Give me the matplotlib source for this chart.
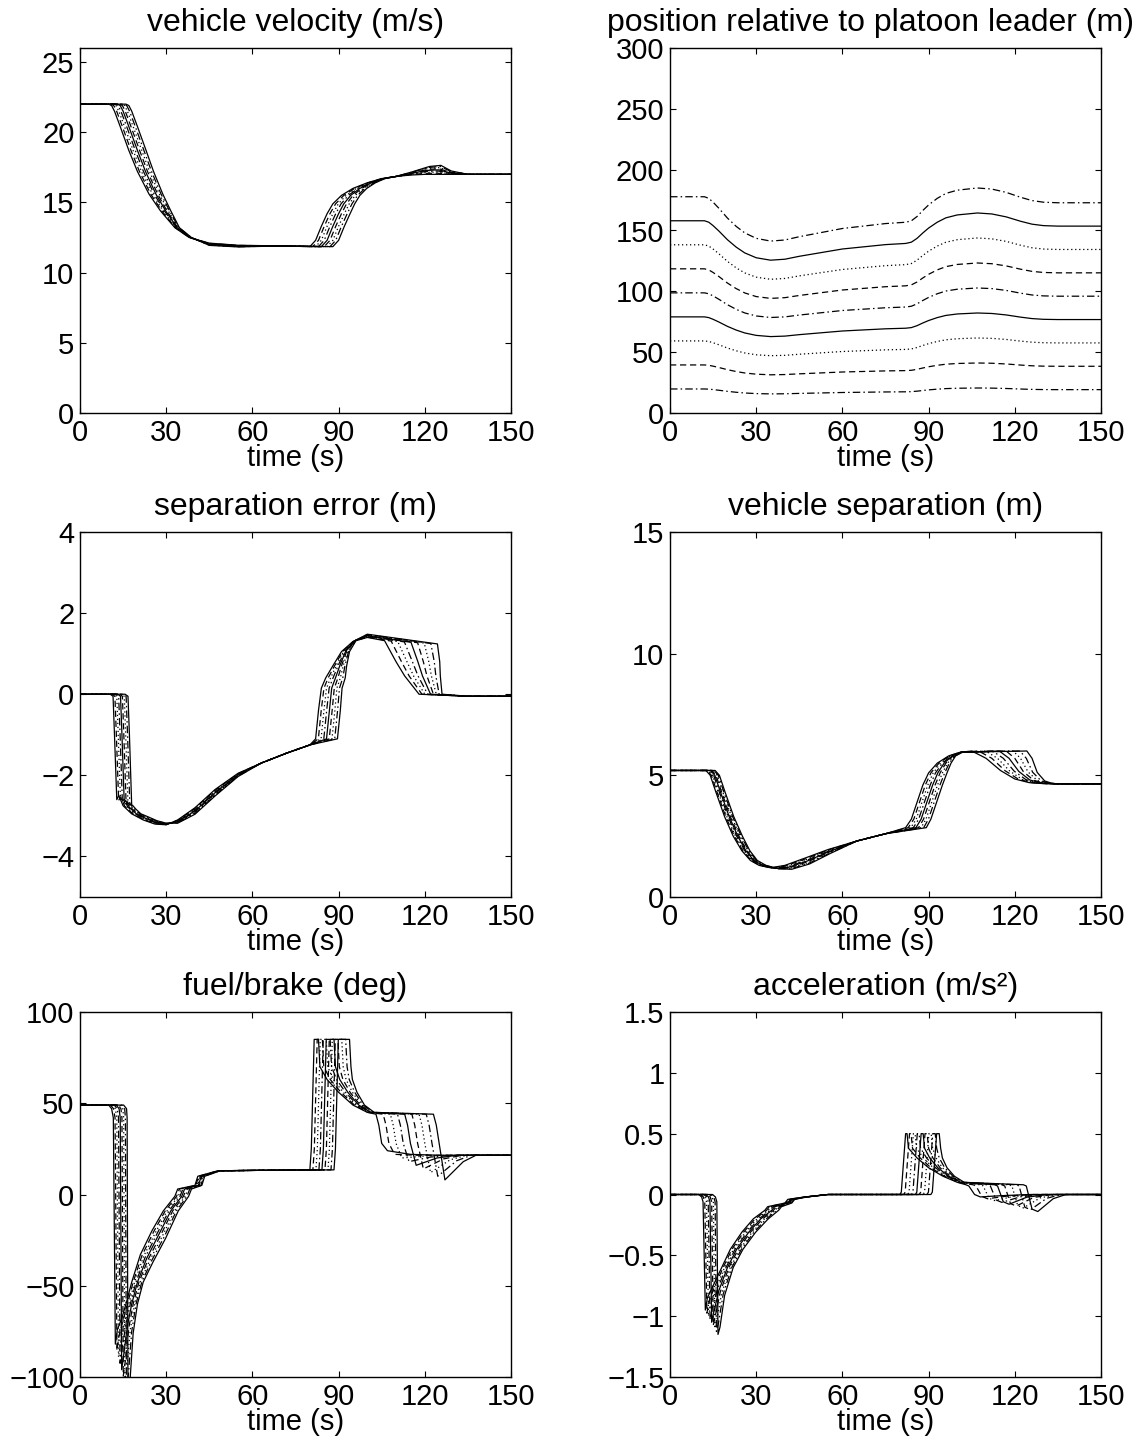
"""
Platoon manoeuvre: six panels of vehicle responses against time.
"""
import matplotlib
matplotlib.use('Agg')
import matplotlib.pyplot as plt
from matplotlib.ticker import FuncFormatter
import numpy as np

plt.rcParams.update({
    'font.family': ['Liberation Sans', 'DejaVu Sans'],
    'axes.linewidth': 1.0,
})

N_VEH = 9
STYLES = ['-', (0, (5, 3)), (0, (1, 2.2)), (0, (6, 2.5, 1.2, 2.5))]

# --- vehicle velocity (earliest vehicle knots, per-vehicle lag and offset)
VEL_T = [0, 10, 11, 12, 14, 17, 20, 24, 28, 33, 38, 45, 55, 70, 80, 82, 84, 86, 88,
         91, 95, 100, 105, 110, 115, 120, 124, 128, 135, 150]
VEL_V = [22, 22, 21.9, 21.5, 20.4, 18.7, 17.2, 15.6, 14.4, 13.2, 12.5, 12.1, 11.95,
         11.9, 11.85, 12.3, 13.3, 14.2, 14.9, 15.5, 16.0, 16.4, 16.7, 16.85, 16.95,
         17.0, 17.0, 17.0, 17.0, 17.0]
VEL_LAG = [0, 0.75, 0.75, 0.75, 0.75, 0.75, 0.7, 0.6, 0.45, 0.2, 0.1, 0, 0, 0, 1.0,
           1.0, 1.0, 1.0, 0.95, 0.8, 0.6, 0.35, 0.15, 0, 0.1, 0.2, 0.2, 0.15, 0, 0]
VEL_STEP = [0, 0, 0, 0, 0, 0, 0, 0, 0, 0, 0, -0.02, -0.015, 0, 0, 0, 0, 0, 0, 0, 0,
            0, 0, 0, 0.03, 0.07, 0.08, 0.03, 0, 0]

# --- position relative to platoon leader: gap per vehicle slot
POS_T = [0, 12, 13.5, 15, 17, 20, 23, 26, 30, 35, 40, 45, 60, 75, 82, 84, 86, 88, 90,
         93, 96, 100, 107, 112, 117, 122, 126, 130, 135, 150]
POS_GAP = [19.75, 19.75, 19.6, 19.25, 18.7, 17.8, 17.05, 16.45, 15.95, 15.7, 15.8,
           16.1, 16.85, 17.3, 17.42, 17.55, 17.95, 18.5, 19.0, 19.6, 20.05, 20.35,
           20.55, 20.45, 20.15, 19.7, 19.4, 19.25, 19.2, 19.2]
POS_STYLES = [STYLES[3], STYLES[1], STYLES[2], STYLES[0]] * 3

# --- separation error
SEP_T = [0, 10.5, 11.5, 12, 12.8, 13.5, 15, 18, 22, 26, 30, 34, 40, 47, 55, 63, 72,
         80, 82, 83, 84, 85.5, 88, 91, 95, 100, 106, 110, 113, 118, 135, 150]
SEP_Y = [0, 0, -0.05, -1.0, -2.6, -2.5, -2.75, -2.95, -3.1, -3.2, -3.22, -3.1, -2.8,
         -2.35, -1.95, -1.7, -1.45, -1.25, -1.1, -0.4, 0.15, 0.4, 0.7, 1.05, 1.3, 1.4,
         1.32, 0.8, 0.45, 0.0, -0.05, -0.05]
SEP_LAG = [0, 0.65, 0.65, 0.65, 0.65, 0.6, 0.55, 0.4, 0.2, 0.1, 0, 0, 0, 0, 0, 0, 0,
           0, 0.95, 0.95, 0.9, 0.85, 0.6, 0.35, 0.15, 0, 2.3, 1.9, 1.55, 1.0, 0, 0]
SEP_STEP = [0, 0, 0, 0, -0.02, -0.03, -0.01, 0, 0.01, 0.01, 0.005, -0.01, -0.02,
            -0.02, -0.01, 0, 0, 0, 0, 0, 0, 0, 0, 0, 0.005, 0.01, -0.01, 0, 0, 0, 0, 0]

# --- vehicle separation
VS_T = [0, 12.5, 14, 16, 19, 22, 25, 28, 31, 35, 40, 47, 55, 65, 75, 82, 84, 86, 88,
        90, 93, 97, 101, 105, 110, 115, 120, 125, 130, 135, 150]
VS_Y = [5.2, 5.2, 5.0, 4.3, 3.3, 2.5, 1.9, 1.5, 1.3, 1.2, 1.3, 1.6, 1.95, 2.3, 2.6,
        2.85, 3.2, 3.9, 4.6, 5.1, 5.5, 5.8, 5.95, 6.0, 5.7, 5.2, 4.85, 4.7, 4.66, 4.65,
        4.65]
VS_LAG = [0, 0.4, 0.4, 0.4, 0.4, 0.4, 0.35, 0.3, 0.3, 0.35, 0.3, 0.2, 0.1, 0, 0, 0.9,
          0.85, 0.85, 0.85, 0.8, 0.6, 0.3, 0.1, 2.4, 2.0, 1.6, 1.3, 0.9, 0.5, 0.1, 0]
VS_STEP = [0, 0, 0, 0, 0, 0, 0, 0, 0, -0.005, -0.02, -0.03, -0.02, 0, 0, 0, 0, 0, 0,
           0, 0, 0, 0, 0, 0, -0.01, -0.01, 0, 0, 0, 0]

# --- fuel/brake command
FB_T = [0, 10, 11, 11.6, 12.3, 13, 14.5, 16, 18, 21, 25, 29, 33, 34, 40, 41, 48, 60,
        80, 80.5, 81.5, 83, 83.5, 86, 90, 95, 100, 103, 104, 105, 107, 115, 125, 135,
        150]
FB_Y = [49, 49, 47, 42, -82, -74, -68, -60, -48, -33, -20, -9, -1, 3, 5, 10, 13,
        13.2, 13.5, 25, 85, 85, 70, 63, 56, 49, 45, 44, 38, 28, 24, 22, 21.5, 21.5,
        21.5]
FB_LAG = [0, 0.65, 0.65, 0.6, 0.55, 0.55, 0.5, 0.5, 0.5, 0.55, 0.6, 0.65, 0.6, 0.6,
          0.3, 0.3, 0.1, 0, 1.05, 1.05, 1.05, 1.35, 1.35, 1.1, 0.8, 0.5, 0.3, 2.5,
          2.5, 2.5, 2.5, 2.3, 1.6, 0.6, 0]
FB_STEP = [0, 0, 0, 0, -3.5, -3.5, -1, 0, 0, -0.5, -0.5, 0, 0, 0, 0, 0, 0, 0, 0, 0,
           0, 0, 0, 0, 0, 0, 0, 0, 0, 0, -2, -0.5, 0, 0, 0]

# --- acceleration
AC_T = [0, 10, 11, 11.5, 12.3, 13, 15, 18, 21, 25, 29, 33, 34, 40, 41, 47, 55, 80,
        80.5, 82, 82.5, 83, 86, 90, 95, 100, 103, 104, 106, 108, 115, 125, 135, 150]
AC_Y = [0, 0, -0.02, -0.06, -0.95, -0.85, -0.75, -0.6, -0.45, -0.31, -0.2, -0.13,
        -0.1, -0.07, -0.04, -0.02, 0, 0, 0.02, 0.5, 0.5, 0.38, 0.3, 0.22, 0.15, 0.1,
        0.08, 0.07, 0.0, -0.02, -0.01, 0, 0, 0]
AC_LAG = [0, 0.6, 0.6, 0.6, 0.55, 0.55, 0.5, 0.5, 0.55, 0.6, 0.65, 0.6, 0.6, 0.3,
          0.3, 0.1, 0, 1.35, 1.35, 1.35, 1.4, 1.4, 1.1, 0.8, 0.5, 0.3, 2.5, 2.5, 2.5,
          2.5, 2.3, 1.6, 0.6, 0]
AC_STEP = [0, 0, 0, 0, -0.025, -0.03, -0.01, 0, 0, 0, 0, 0, 0, 0, 0, 0, 0, 0, 0, 0,
           0, 0, 0, 0, 0, 0, 0, 0, -0.015, -0.015, -0.003, 0, 0, 0]


def fmt(v, _):
    return f'{v:g}'.replace('-', '\u2212')


def draw_bundle(ax, t, y, lag, step):
    t, y = np.asarray(t, float), np.asarray(y, float)
    lag, step = np.asarray(lag, float), np.asarray(step, float)
    for k in range(N_VEH):
        tk = np.maximum.accumulate(t + k * lag)
        ax.plot(tk, y + k * step, color='k', lw=0.9, linestyle=STYLES[k % 4])


def style_axes(ax, title, ylim, yticks, title_x=0.5):
    ax.set_xlim(0, 150)
    ax.set_ylim(*ylim)
    ax.set_xticks([0, 30, 60, 90, 120, 150])
    ax.set_yticks(yticks)
    ax.xaxis.set_major_formatter(FuncFormatter(fmt))
    ax.yaxis.set_major_formatter(FuncFormatter(fmt))
    ax.tick_params(direction='in', top=True, right=True, labelsize=21,
                   length=4, width=0.8, pad=4)
    ax.set_xlabel('time (s)', fontsize=21, labelpad=-2)
    ax.set_title(title, fontsize=23, pad=12, x=title_x)


def main():
    W, H = 1143, 1440
    fig = plt.figure(figsize=(W / 100, H / 100), dpi=100)
    cols = [80, 670]
    rows = [48, 532, 1012]
    aw, ah = 431, 365
    axes = [[fig.add_axes([c / W, 1 - (r + ah) / H, aw / W, ah / H]) for c in cols]
            for r in rows]

    ax = axes[0][0]
    draw_bundle(ax, VEL_T, VEL_V, VEL_LAG, VEL_STEP)
    style_axes(ax, 'vehicle velocity (m/s)', (0, 26), [0, 5, 10, 15, 20, 25])

    ax = axes[0][1]
    gap = np.asarray(POS_GAP)
    for k in range(1, 10):
        ax.plot(POS_T, k * gap, color='k', lw=0.9, linestyle=POS_STYLES[k - 1])
    style_axes(ax, 'position relative to platoon leader (m)', (0, 300),
               [0, 50, 100, 150, 200, 250, 300], title_x=0.465)

    ax = axes[1][0]
    draw_bundle(ax, SEP_T, SEP_Y, SEP_LAG, SEP_STEP)
    style_axes(ax, 'separation error (m)', (-5, 4), [-4, -2, 0, 2, 4])

    ax = axes[1][1]
    draw_bundle(ax, VS_T, VS_Y, VS_LAG, VS_STEP)
    style_axes(ax, 'vehicle separation (m)', (0, 15), [0, 5, 10, 15])

    ax = axes[2][0]
    draw_bundle(ax, FB_T, FB_Y, FB_LAG, FB_STEP)
    style_axes(ax, 'fuel/brake (deg)', (-100, 100), [-100, -50, 0, 50, 100])

    ax = axes[2][1]
    draw_bundle(ax, AC_T, AC_Y, AC_LAG, AC_STEP)
    style_axes(ax, 'acceleration (m/s\u00b2)', (-1.5, 1.5),
               [-1.5, -1, -0.5, 0, 0.5, 1, 1.5])

    fig.savefig('out.png', dpi=100)
    plt.close(fig)


if __name__ == '__main__':
    main()
